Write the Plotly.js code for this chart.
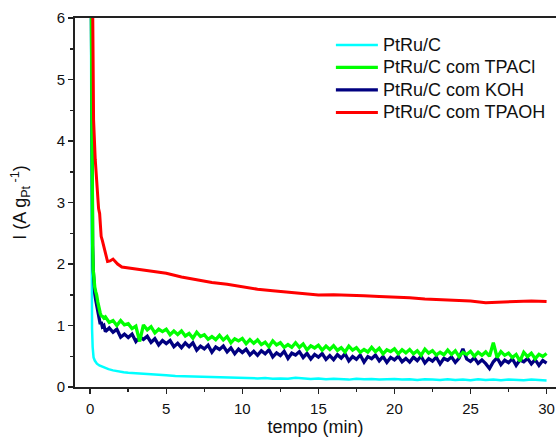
<!DOCTYPE html>
<html>
<head>
<meta charset="utf-8">
<script src="https://cdn.plot.ly/plotly-3.0.1.min.js"></script>
<style>
html,body{margin:0;padding:0;background:#fff;}
#chart{width:556px;height:441px;}
#chart .legend .legendtext{font-size:18px !important;}
#chart .legend .scrollbox{clip-path:none !important;}
</style>
</head>
<body>
<div id="chart"></div>
<script>
// ---- data ----
const seriesNames = ["PtRu/C", "PtRu/C com TPACl", "PtRu/C com KOH", "PtRu/C com TPAOH"];

const tCyan = [0.03,0.06,0.09,0.12,0.16,0.22,0.3,0.44,0.6,0.77,1.0,1.2,1.5,1.86,2.2,2.5,3.0,3.4,4.0,4.5,5.0,5.6,6.2,6.9,7.5,8.2,8.8,9.3,10,10.5,11,11.5,12,12.5,13,13.5,14,14.5,15,15.5,16,16.5,17,17.5,18,18.5,19,19.5,20,20.5,21,21.5,22,22.5,23,23.5,24,24.5,25,25.5,26,26.5,27,27.5,28,28.5,29,29.5,30];
const vCyan = [7.5,3.2,1.6,0.95,0.65,0.48,0.43,0.38,0.35,0.33,0.31,0.29,0.27,0.25,0.24,0.23,0.22,0.21,0.205,0.195,0.19,0.18,0.175,0.17,0.165,0.16,0.155,0.15,0.145,0.15,0.14,0.145,0.135,0.14,0.135,0.15,0.135,0.13,0.14,0.125,0.135,0.13,0.12,0.135,0.125,0.13,0.12,0.125,0.13,0.12,0.125,0.115,0.125,0.12,0.115,0.125,0.115,0.12,0.11,0.125,0.115,0.12,0.11,0.12,0.115,0.11,0.12,0.11,0.105];

const tGreen = [0.05,0.08,0.12,0.16,0.2,0.25,0.3,0.36,0.42,0.5,0.55,0.6,0.66,0.72,0.8,0.9,
  1.00,1.25,1.50,1.75,2.00,2.25,2.50,2.75,3.00,3.25,3.50,3.75,4.00,4.25,4.50,4.75,5.00,5.25,5.50,5.75,
  6.00,6.25,6.50,6.75,7.00,7.25,7.50,7.75,8.00,8.25,8.50,8.75,9.00,9.25,9.50,9.75,10.00,10.25,10.50,10.75,
  11.00,11.25,11.50,11.75,12.00,12.25,12.50,12.75,13.00,13.25,13.50,13.75,14.00,14.25,14.50,14.75,15.00,15.25,15.50,15.75,
  16.00,16.25,16.50,16.75,17.00,17.25,17.50,17.75,18.00,18.25,18.50,18.75,19.00,19.25,19.50,19.75,20.00,20.25,20.50,20.75,
  21.00,21.25,21.50,21.75,22.00,22.25,22.50,22.75,23.00,23.25,23.50,23.75,24.00,24.25,24.50,24.75,25.00,25.25,25.50,25.75,
  26.00,26.25,26.50,26.75,27.00,27.25,27.50,27.75,28.00,28.25,28.50,28.75,29.00,29.25,29.50,29.75,30.00];
const vGreen = [7.5,5.0,3.2,2.3,1.9,1.72,1.62,1.55,1.50,1.38,1.30,1.26,1.20,1.16,1.15,1.12,
  1.14,1.05,1.08,1.00,1.08,1.01,1.03,0.95,0.99,0.74,1.01,0.93,0.98,0.88,0.94,0.90,0.94,0.85,0.91,0.855,
  0.91,0.83,0.87,0.795,0.89,0.82,0.85,0.775,0.82,0.77,0.84,0.765,0.82,0.72,0.785,0.75,0.79,0.705,0.77,0.71,
  0.765,0.69,0.73,0.655,0.75,0.685,0.72,0.645,0.69,0.645,0.72,0.645,0.70,0.605,0.67,0.635,0.68,0.60,0.665,0.61,
  0.67,0.595,0.64,0.57,0.665,0.60,0.64,0.565,0.61,0.57,0.645,0.575,0.63,0.54,0.605,0.575,0.62,0.54,0.605,0.555,
  0.61,0.54,0.59,0.515,0.615,0.55,0.59,0.52,0.565,0.525,0.60,0.53,0.59,0.495,0.565,0.53,0.58,0.50,0.565,0.515,
  0.57,0.50,0.72,0.48,0.575,0.515,0.55,0.48,0.53,0.42,0.565,0.495,0.55,0.46,0.53,0.495,0.545];

const tBlue = [0.05,0.08,0.12,0.16,0.2,0.25,0.3,0.36,0.42,0.5,0.55,0.6,0.66,0.72,0.8,0.9,
  1.00,1.25,1.50,1.75,2.00,2.25,2.50,2.75,3.00,3.25,3.50,3.75,4.00,4.25,4.50,4.75,5.00,5.25,5.50,5.75,
  6.00,6.25,6.50,6.75,7.00,7.25,7.50,7.75,8.00,8.25,8.50,8.75,9.00,9.25,9.50,9.75,10.00,10.25,10.50,10.75,
  11.00,11.25,11.50,11.75,12.00,12.25,12.50,12.75,13.00,13.25,13.50,13.75,14.00,14.25,14.50,14.75,15.00,15.25,15.50,15.75,
  16.00,16.25,16.50,16.75,17.00,17.25,17.50,17.75,18.00,18.25,18.50,18.75,19.00,19.25,19.50,19.75,20.00,20.25,20.50,20.75,
  21.00,21.25,21.50,21.75,22.00,22.25,22.50,22.75,23.00,23.25,23.50,23.75,24.00,24.25,24.50,24.75,25.00,25.25,25.50,25.75,
  26.00,26.25,26.50,26.75,27.00,27.25,27.50,27.75,28.00,28.25,28.50,28.75,29.00,29.25,29.50,29.75,30.00];
const vBlue = [7.5,5.0,3.2,2.3,1.9,1.65,1.52,1.42,1.35,1.22,1.15,1.10,1.02,1.06,0.98,1.00,
  0.90,0.96,0.89,0.94,0.81,0.86,0.805,0.86,0.74,0.815,0.775,0.825,0.725,0.785,0.685,0.755,0.705,0.755,0.655,0.71,
  0.64,0.715,0.655,0.72,0.60,0.665,0.62,0.68,0.565,0.65,0.61,0.665,0.57,0.635,0.54,0.615,0.56,0.615,0.52,0.58,
  0.515,0.59,0.54,0.605,0.49,0.555,0.51,0.58,0.465,0.55,0.52,0.575,0.48,0.545,0.455,0.53,0.485,0.545,0.45,0.51,
  0.445,0.525,0.47,0.54,0.425,0.495,0.45,0.52,0.405,0.495,0.46,0.52,0.425,0.495,0.40,0.48,0.44,0.50,0.41,0.465,
  0.405,0.485,0.43,0.50,0.39,0.46,0.42,0.485,0.375,0.465,0.435,0.49,0.40,0.47,0.62,0.455,0.415,0.475,0.385,0.44,
  0.38,0.30,0.41,0.475,0.365,0.435,0.395,0.46,0.35,0.44,0.41,0.465,0.375,0.445,0.35,0.43,0.39];

const tRed = [0.12,0.17,0.22,0.33,0.45,0.55,0.62,0.66,0.72,0.8,0.95,1.14,1.3,1.5,1.8,2.08,3,4,5,6,7,8,9,10,11,12,13,14,15,16,17,18,19,20,21,22,23,24,25,26,27,28,29,30];
const vRed = [7.5,6.0,4.35,3.7,3.25,2.9,2.82,2.72,2.45,2.38,2.22,2.04,2.05,2.08,2.0,1.95,1.92,1.89,1.85,1.79,1.74,1.70,1.67,1.63,1.59,1.565,1.54,1.52,1.495,1.50,1.495,1.485,1.47,1.465,1.45,1.43,1.42,1.415,1.40,1.37,1.38,1.395,1.40,1.39];

const colors = ["#00FFFF", "#00FF00", "#000080", "#FF0000"];

// drawing order: cyan, KOH (under), TPACl, TPAOH ; legend order kept via legendrank
const traces = [
  {x: tCyan, y: vCyan, name: seriesNames[0], mode: "lines", legendrank: 1, line: {color: colors[0], width: 2.5}},
  {x: tBlue, y: vBlue, name: seriesNames[2], mode: "lines", legendrank: 3, line: {color: colors[2], width: 3.3}},
  {x: tGreen, y: vGreen, name: seriesNames[1], mode: "lines", legendrank: 2, line: {color: colors[1], width: 3.3}},
  {x: tRed, y: vRed, name: seriesNames[3], mode: "lines", legendrank: 4, line: {color: colors[3], width: 3}}
];

const font = "Liberation Sans, Arial, sans-serif";
const layout = {
  width: 556, height: 441,
  margin: {l: 75, r: 0, t: 18, b: 54, pad: 0},
  paper_bgcolor: "#fff", plot_bgcolor: "#fff",
  font: {family: font, color: "#111", size: 15},
  showlegend: true,
  legend: {x: 0.532, y: 0.971, xanchor: "left", yanchor: "top", bgcolor: "rgba(0,0,0,0)",
           itemwidth: 42, font: {family: font, size: 15, color: "#111"}, tracegroupgap: 0, traceorder: "normal"},
  xaxis: {
    range: [-1, 30.62], showgrid: false, zeroline: false,
    showline: true, linecolor: "#222", linewidth: 2, mirror: true,
    ticks: "outside", ticklen: 5, tickwidth: 1.5, tickcolor: "#222",
    tickvals: [0, 5, 10, 15, 20, 25, 30], ticklabelstandoff: 2,
    minor: {ticks: "outside", ticklen: 3, tickwidth: 1.5, tickcolor: "#222", dtick: 2.5, tick0: 0},
    tickfont: {family: font, size: 15, color: "#111"},
    title: {text: "tempo (min)", font: {family: font, size: 18, color: "#111"}, standoff: 4}
  },
  yaxis: {
    range: [0, 6], showgrid: false, zeroline: false,
    showline: true, linecolor: "#222", linewidth: 2,
    ticks: "outside", ticklen: 5, tickwidth: 1.5, tickcolor: "#222",
    tickvals: [0, 1, 2, 3, 4, 5, 6],
    minor: {ticks: "outside", ticklen: 3, tickwidth: 1.5, tickcolor: "#222", dtick: 0.5, tick0: 0},
    tickfont: {family: font, size: 15, color: "#111"},
    title: {text: "I (A g<sub>Pt</sub><sup> -1</sup>)", font: {family: font, size: 18, color: "#111"}, standoff: 25}
  }
};

Plotly.newPlot("chart", traces, layout, {displayModeBar: false, staticPlot: true});
</script>
</body>
</html>
